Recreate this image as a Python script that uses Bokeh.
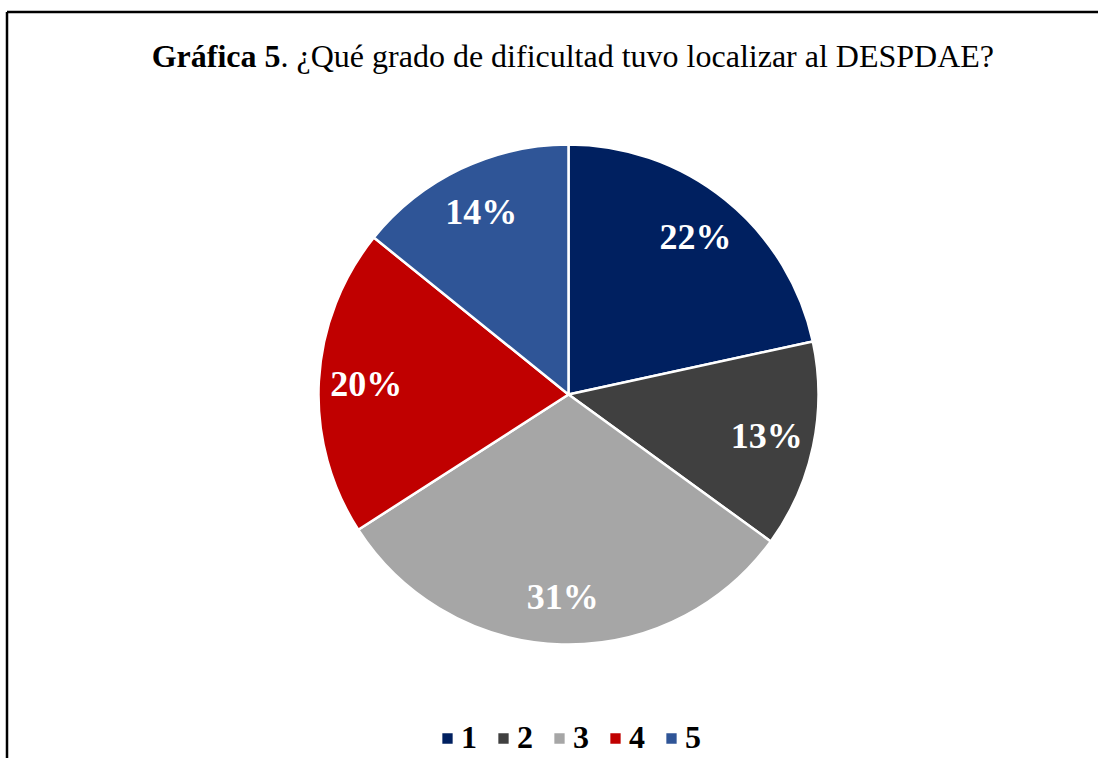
import math
from bokeh.plotting import figure
from bokeh.models import Range1d, Label, Legend, LegendItem, ColumnDataSource
from bokeh.core.properties import value
from bokeh.embed import file_html
from bokeh.resources import INLINE

# ---- data ----
categories = ["1", "2", "3", "4", "5"]
percent = [21.6, 13.4, 30.9, 19.9, 14.2]
colors = ["#002060", "#404040", "#A6A6A6", "#C00000", "#2F5597"]
title_bold = "Gráfica 5"
title_rest = ". ¿Qué grado de dificultad tuvo localizar al DESPDAE?"

W, H = 1098, 758
p = figure(width=W, height=H, output_backend="svg", toolbar_location=None,
           x_range=Range1d(0, W), y_range=Range1d(-H, 0),
           min_border=0, outline_line_color=None)
p.axis.visible = False
p.grid.visible = False

# border (top and left)
p.segment(x0=[6.5, 6.5], y0=[-11.5, -11.5], x1=[W, 6.5], y1=[-11.5, -H],
          line_color="black", line_width=2.5)

cx, cy, R = 568, -394, 250
total = sum(percent)
starts, ends, lx, ly, labels = [], [], [], [], []
cum = 0.0
for v in percent:
    a0 = cum / total
    a1 = (cum + v) / total
    starts.append(math.pi / 2 - 2 * math.pi * a0)
    ends.append(math.pi / 2 - 2 * math.pi * a1)
    mid = 2 * math.pi * (a0 + a1) / 2
    lx.append(cx + 0.81 * R * math.sin(mid))
    ly.append(cy + 0.81 * R * math.cos(mid))
    labels.append(f"{round(v / total * 100)}%")
    cum += v

src = ColumnDataSource(dict(start=starts, end=ends, color=colors, cat=categories,
                            lx=lx, ly=ly, lab=labels))
w = p.wedge(x=cx, y=cy, radius=R, start_angle="start", end_angle="end",
            direction="clock", fill_color="color", line_color="white",
            line_width=2.5, source=src)

p.text(x="lx", y="ly", text="lab", source=src, text_color="white",
       text_font=value("Liberation Serif"), text_font_style="bold",
       text_font_size="36px", text_align="center", text_baseline="middle")

# title
p.add_layout(Label(x=280, y=-55, text=title_bold, text_font="Liberation Serif",
                   text_font_style="bold", text_font_size="32px",
                   text_color="black",
                   text_align="right", text_baseline="alphabetic"))
p.add_layout(Label(x=280, y=-55, text=title_rest, text_font="Liberation Serif",
                   text_font_size="32px", text_align="left", text_color="black",
                   text_baseline="alphabetic"))

items = [LegendItem(label=c, renderers=[w], index=i) for i, c in enumerate(categories)]
legend = Legend(items=items, orientation="horizontal", location=(439, 2),
                glyph_width=16, glyph_height=16, label_standoff=6, spacing=14,
                padding=0, margin=0, border_line_color=None,
                background_fill_alpha=0,
                label_text_font="Liberation Serif", label_text_font_style="bold",
                label_text_font_size="32px", label_text_color="black")
p.add_layout(legend)

open("out.html", "w").write(file_html(p, INLINE))
